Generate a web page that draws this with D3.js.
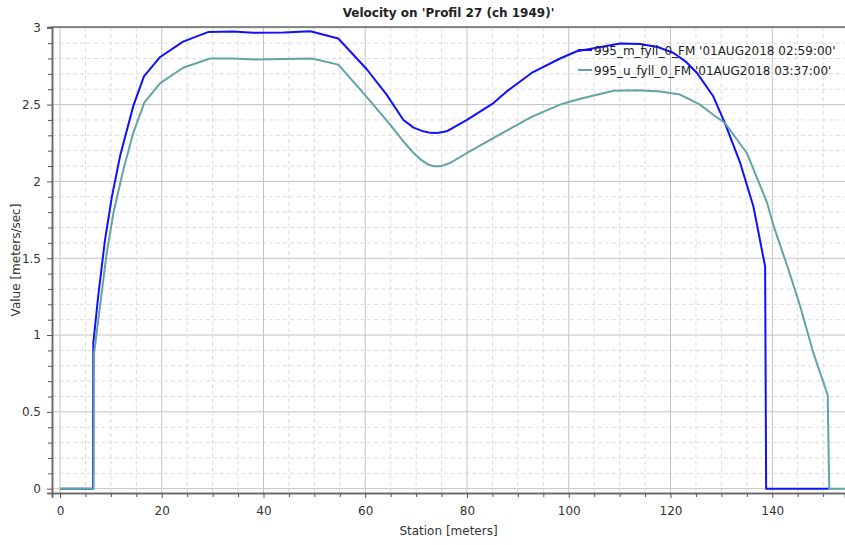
<!DOCTYPE html>
<html>
<head>
<meta charset="utf-8">
<script src="https://cdn.jsdelivr.net/npm/d3@7"></script>
<style>
  body { margin: 0; background: #fff; }
  text { font-family: "DejaVu Sans", sans-serif; }
</style>
</head>
<body>
<svg id="chart"></svg>
<script>
    // stations (m) and velocities (m/s)
    var stationM = [0, 6.5, 6.55, 7.5, 8.85, 10.2, 11.8, 14.4, 16.5, 19.7, 24.2, 29.2, 34, 38, 44, 49.2, 54.7, 60.3, 64.2, 67.5,
      69.5, 71.4, 72.8, 74.1, 76, 80, 85.2, 87.8, 92.7, 98.3, 101.6, 105.2, 110.1, 114, 117.5, 120.6, 123, 125.2, 128.4, 130.7, 133.7, 136.3,
      138.6, 138.8, 151.2]
    var velocityM = [0, 0, 0.947, 1.25, 1.62, 1.90, 2.163, 2.49, 2.684, 2.81, 2.91, 2.973, 2.975, 2.967, 2.97, 2.977, 2.93, 2.73, 2.565, 2.40,
      2.35, 2.326, 2.316, 2.315, 2.326, 2.40, 2.51, 2.586, 2.706, 2.80, 2.847, 2.869, 2.897, 2.895, 2.875, 2.836, 2.78, 2.706, 2.554, 2.38, 2.12, 1.837,
      1.446, 0, 0]

    var stationU = [0, 6.6, 6.7, 7.86, 9.18, 10.5, 12.45, 14.4, 16.6, 19.7, 24.2, 29.5, 34, 38.7, 44, 49.5, 54.7, 59.6, 64.9, 67.5, 69.5,
      71, 72.4, 73.6, 74.7, 76.7, 80, 87.8, 92.7, 98.3, 100.3, 102.9, 108.8, 113.4, 118, 121.9, 125.8, 128.4, 130.7, 135, 139, 140.3, 143.2,
      145.5, 148.1, 150.9, 151.2, 156]
    var velocityU = [0, 0, 0.88, 1.186, 1.533, 1.794, 2.076, 2.315, 2.515, 2.64, 2.74, 2.80, 2.80, 2.793, 2.797, 2.80, 2.76, 2.576, 2.37, 2.26, 2.185,
      2.14, 2.109, 2.099, 2.098, 2.12, 2.185, 2.33, 2.42, 2.50, 2.52, 2.543, 2.59, 2.593, 2.585, 2.565, 2.50, 2.434, 2.38, 2.185, 1.86, 1.707, 1.425,
      1.186, 0.882, 0.61, 0, 0]

    var seriesNames = ["995_m_fyll_0_FM '01AUG2018 02:59:00'", "995_u_fyll_0_FM '01AUG2018 03:37:00'"]
    var seriesColors = ["#1010ff", "#62a4a6"]

    var xMajor = [0, 20, 40, 60, 80, 100, 120, 140]
    var yMajor = [0, 0.5, 1, 1.5, 2, 2.5, 3]

    var width = 845;
    var height = 545;

    var margin = {
      top: 27,
      bottom: 52,
      left: 52,
      right: 0
    }
    var bodyHeight = height - margin.top - margin.bottom;
    var bodyWidth = width - margin.left - margin.right;

    var container = d3.select("#chart")
      .attr("width", width)
      .attr("height", height)

    var xScale = d3.scaleLinear()
      .domain([-1.57, 154.3])
      .range([0, bodyWidth])

    var yScale = d3.scaleLinear()
      .domain([-0.028, 3.005])
      .range([bodyHeight, 0])

    var body = container.append("g")
      .attr("transform", `translate(${margin.left},${margin.top})`)

    body.append("clipPath").attr("id", "clip")
      .append("rect").attr("width", bodyWidth).attr("height", bodyHeight)

    // minor grid (dashed) then major grid (solid)
    var xMinor = d3.range(0, 155, 5).filter(v => v % 20 !== 0)
    var yMinor = d3.range(0, 31).map(v => v / 10).filter(v => Math.round(v * 10) % 5 !== 0)

    body.append("g").selectAll("line").data(xMinor).enter().append("line")
      .attr("x1", d => xScale(d)).attr("x2", d => xScale(d))
      .attr("y1", 0).attr("y2", bodyHeight)
      .attr("stroke", "#dcdcdc").attr("stroke-dasharray", "4,3")
    body.append("g").selectAll("line").data(yMinor).enter().append("line")
      .attr("y1", d => yScale(d)).attr("y2", d => yScale(d))
      .attr("x1", 0).attr("x2", bodyWidth)
      .attr("stroke", "#dcdcdc").attr("stroke-dasharray", "4,3")

    body.append("g").selectAll("line").data(xMajor).enter().append("line")
      .attr("x1", d => xScale(d)).attr("x2", d => xScale(d))
      .attr("y1", 0).attr("y2", bodyHeight)
      .attr("stroke", "#c4c4c4")
    body.append("g").selectAll("line").data(yMajor).enter().append("line")
      .attr("y1", d => yScale(d)).attr("y2", d => yScale(d))
      .attr("x1", 0).attr("x2", bodyWidth)
      .attr("stroke", "#c4c4c4")

    // the two velocity profiles
    var line = d3.line().x(d => xScale(d[0])).y(d => yScale(d[1]))
    var profiles = [d3.zip(stationM, velocityM), d3.zip(stationU, velocityU)]

    body.append("g").attr("clip-path", "url(#clip)")
      .selectAll("path").data(profiles).enter().append("path")
      .attr("d", d => line(d))
      .attr("fill", "none")
      .attr("stroke", (d, i) => seriesColors[i])
      .attr("stroke-width", 2)
      .attr("stroke-linejoin", "round")

    // axes
    var xAxis = d3.axisBottom(xScale).tickValues(xMajor).tickSize(5).tickPadding(8)
    var xAxisMinor = d3.axisBottom(xScale).tickValues(xMinor).tickSize(4).tickFormat("")
    var yAxis = d3.axisLeft(yScale).tickValues(yMajor).tickSize(5).tickPadding(6).tickFormat(d3.format("~g"))
    var yAxisMinor = d3.axisLeft(yScale).tickValues(yMinor).tickSize(4).tickFormat("")

    container.append("g")
      .attr("transform", `translate(${margin.left},${height - margin.bottom})`)
      .call(xAxisMinor)
    container.append("g")
      .attr("transform", `translate(${margin.left},${height - margin.bottom})`)
      .call(xAxis)
    container.append("g")
      .attr("transform", `translate(${margin.left},${margin.top})`)
      .call(yAxisMinor)
    container.append("g")
      .attr("transform", `translate(${margin.left},${margin.top})`)
      .call(yAxis)

    container.selectAll(".domain").attr("stroke", "#666").attr("stroke-width", 1.5)
    container.selectAll(".tick line").attr("stroke", "#555")
    container.selectAll(".tick text")
      .attr("fill", "#333")
      .style("font-size", "12px")
      .style("font-family", "DejaVu Sans")

    // top frame line
    container.append("line")
      .attr("x1", margin.left).attr("x2", width)
      .attr("y1", margin.top).attr("y2", margin.top)
      .attr("stroke", "#666").attr("stroke-width", 1.5)

    // title and axis labels
    container.append("text")
      .attr("x", margin.left + bodyWidth / 2).attr("y", 17)
      .attr("text-anchor", "middle")
      .style("font-size", "12px").style("font-weight", "bold")
      .attr("fill", "#222")
      .text("Velocity on 'Profil 27 (ch 1949)'")

    container.append("text")
      .attr("x", margin.left + bodyWidth / 2).attr("y", 535)
      .attr("text-anchor", "middle")
      .style("font-size", "12px")
      .attr("fill", "#333")
      .text("Station [meters]")

    container.append("text")
      .attr("transform", `translate(20,${margin.top + bodyHeight / 2}) rotate(-90)`)
      .attr("text-anchor", "middle")
      .style("font-size", "12px")
      .attr("fill", "#333")
      .text("Value [meters/sec]")

    // legend, no box
    var legend = container.append("g").selectAll("g").data(seriesNames).enter().append("g")
      .attr("transform", (d, i) => `translate(578,${50 + i * 20})`)
    legend.append("line")
      .attr("x1", 0).attr("x2", 14)
      .attr("stroke", (d, i) => seriesColors[i]).attr("stroke-width", 2)
    legend.append("text")
      .attr("x", 16).attr("y", 5)
      .style("font-size", "12px")
      .attr("fill", "#222")
      .text(d => d)
</script>
</body>
</html>
